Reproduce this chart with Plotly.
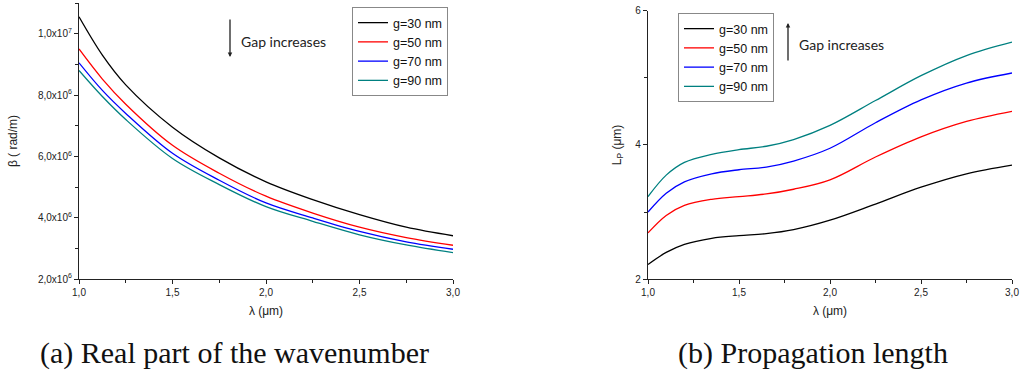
import plotly.graph_objects as go
from plotly.subplots import make_subplots

# ---------------- data ----------------
# (a) real part of the wavenumber, beta (rad/m)
lam_a = [1.0, 1.125, 1.25, 1.5, 1.75, 2.0, 2.25, 2.5, 2.75, 3.0]
beta_g30 = [1.055e7, 9.30e6, 8.33e6, 6.95e6, 5.95e6, 5.17e6, 4.59e6, 4.10e6, 3.69e6, 3.41e6]
beta_g50 = [9.50e6, 8.52e6, 7.70e6, 6.36e6, 5.45e6, 4.70e6, 4.15e6, 3.69e6, 3.35e6, 3.10e6]
beta_g70 = [9.05e6, 8.15e6, 7.40e6, 6.10e6, 5.22e6, 4.48e6, 3.99e6, 3.55e6, 3.21e6, 2.97e6]
beta_g90 = [8.80e6, 7.95e6, 7.20e6, 5.93e6, 5.08e6, 4.36e6, 3.88e6, 3.44e6, 3.11e6, 2.86e6]

# (b) propagation length L_P (um)
lam_b = [1.0, 1.1, 1.2, 1.35, 1.5, 1.65, 1.8, 2.0, 2.25, 2.5, 2.75, 3.0]
lp_g30 = [2.22, 2.40, 2.52, 2.61, 2.65, 2.68, 2.74, 2.88, 3.12, 3.37, 3.57, 3.70]
lp_g50 = [2.69, 2.95, 3.10, 3.19, 3.23, 3.27, 3.34, 3.48, 3.82, 4.12, 4.35, 4.50]
lp_g70 = [3.00, 3.28, 3.45, 3.57, 3.63, 3.67, 3.76, 3.95, 4.33, 4.67, 4.92, 5.07]
lp_g90 = [3.23, 3.55, 3.74, 3.86, 3.93, 3.98, 4.08, 4.29, 4.66, 5.03, 5.33, 5.53]

series_names = ["g=30 nm", "g=50 nm", "g=70 nm", "g=90 nm"]
colors = ["#000000", "#ff0000", "#0000ff", "#008080"]

x_ticks = [1.0, 1.5, 2.0, 2.5, 3.0]
x_ticktext = ["1,0", "1,5", "2,0", "2,5", "3,0"]
ya_ticks = [2e6, 4e6, 6e6, 8e6, 1e7]
ya_ticktext = ["2,0x10<sup>6</sup>", "4,0x10<sup>6</sup>", "6,0x10<sup>6</sup>",
               "8,0x10<sup>6</sup>", "1,0x10<sup>7</sup>"]
yb_ticks = [2, 4, 6]
yb_ticktext = ["2", "4", "6"]

W, H = 1024, 376

fig = make_subplots(rows=1, cols=2)

for name, col, ys in zip(series_names, colors, [beta_g30, beta_g50, beta_g70, beta_g90]):
    fig.add_trace(go.Scatter(x=lam_a, y=ys, mode="lines", name=name,
                             line=dict(color=col, width=1.3, shape="spline", smoothing=1.0),
                             legend="legend"), row=1, col=1)
for name, col, ys in zip(series_names, colors, [lp_g30, lp_g50, lp_g70, lp_g90]):
    fig.add_trace(go.Scatter(x=lam_b, y=ys, mode="lines", name=name,
                             line=dict(color=col, width=1.3, shape="spline", smoothing=1.0),
                             legend="legend2"), row=1, col=2)

SANS = "Liberation Sans, Arial, sans-serif"
tickfont = dict(family=SANS, size=10, color="#222")
axis_common = dict(showline=True, linecolor="#222", linewidth=1.2, mirror=False,
                   ticks="outside", ticklen=4, tickcolor="#222", tickwidth=1,
                   showgrid=False, zeroline=False, tickfont=tickfont, automargin=False)

fig.update_xaxes(axis_common, range=[1.0, 3.0], tickvals=x_ticks, ticktext=x_ticktext,
                 minor=dict(ticks="outside", ticklen=3, dtick=0.25, tick0=1.0, tickcolor="#222"),
                 title=dict(text="λ (μm)", font=dict(family=SANS, size=12, color="#222"),
                            standoff=9))
fig.update_xaxes(domain=[79 / W, 453 / W], row=1, col=1)
fig.update_xaxes(domain=[648 / W, 1012 / W], row=1, col=2)

fig.update_yaxes(axis_common, row=1, col=1, range=[2e6, 1.1e7], tickvals=ya_ticks, ticktext=ya_ticktext,
                 minor=dict(ticks="outside", ticklen=3, dtick=1e6, tick0=2e6, tickcolor="#222"),
                 domain=[(H - 279) / H, (H - 3) / H],
                 title=dict(text="β ( rad/m)", font=dict(family=SANS, size=12, color="#222"),
                            standoff=17))
fig.update_yaxes(axis_common, row=1, col=2, range=[2, 6], tickvals=yb_ticks, ticktext=yb_ticktext,
                 minor=dict(ticks="outside", ticklen=3, dtick=1, tick0=2, tickcolor="#222"),
                 domain=[(H - 279.3) / H, (H - 10.5) / H],
                 title=dict(text="L<sub>P</sub> (μm)", font=dict(family=SANS, size=12, color="#222"),
                            standoff=11))

legend_font = dict(family=SANS, size=12.5, color="#111")
fig.update_layout(
    width=W, height=H,
    margin=dict(l=0, r=0, t=0, b=0, autoexpand=False),
    paper_bgcolor="white", plot_bgcolor="white",
    showlegend=True,
    legend=dict(x=352 / W, y=1 - 7 / H, xanchor="left", yanchor="top",
                bordercolor="#888", borderwidth=1, font=legend_font,
                tracegroupgap=0, bgcolor="white"),
    legend2=dict(x=678 / W, y=1 - 13 / H, xanchor="left", yanchor="top",
                 bordercolor="#888", borderwidth=1, font=legend_font,
                 tracegroupgap=0, bgcolor="white"),
)

note_font = dict(family="Lato, Open Sans, sans-serif", size=14, color="#222")
# arrows + notes
fig.add_annotation(x=230 / W, y=1 - 57 / H, ax=0, ay=-39, xref="paper", yref="paper",
                   text="", showarrow=True, arrowhead=2,
                   arrowsize=0.7, arrowwidth=1.3, arrowcolor="#222")
fig.add_annotation(x=239 / W, y=1 - 41 / H, xref="paper", yref="paper", text="Gap increases",
                   showarrow=False, xanchor="left", yanchor="middle", font=note_font)
fig.add_annotation(x=788 / W, y=1 - 23 / H, ax=0, ay=39, xref="paper", yref="paper",
                   text="", showarrow=True, arrowhead=2,
                   arrowsize=0.7, arrowwidth=1.3, arrowcolor="#222")
fig.add_annotation(x=797 / W, y=1 - 44 / H, xref="paper", yref="paper", text="Gap increases",
                   showarrow=False, xanchor="left", yanchor="middle", font=note_font)

cap_font = dict(family="Liberation Serif, Times New Roman, serif", size=30, color="#111")
fig.add_annotation(x=234 / W, y=1 - 353 / H, xref="paper", yref="paper",
                   text="(a) Real part of the wavenumber", showarrow=False,
                   xanchor="center", yanchor="middle", font=cap_font)
fig.add_annotation(x=813 / W, y=1 - 353 / H, xref="paper", yref="paper",
                   text="(b) Propagation length", showarrow=False,
                   xanchor="center", yanchor="middle", font=cap_font)

# remove the browser's default page margin so the figure sits at the window origin
fig.write_html("out.html", config={"displayModeBar": False},
               post_script="document.body.style.margin='0';document.body.style.padding='0';")
